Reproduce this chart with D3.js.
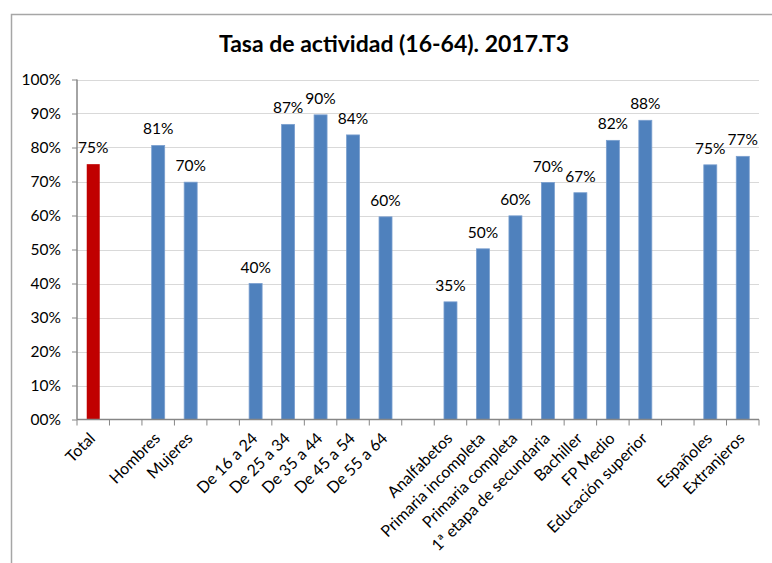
<!DOCTYPE html>
<html>
<head>
<meta charset="utf-8">
<script src="https://cdn.jsdelivr.net/npm/d3@7"></script>
<style>
  body { margin: 0; background: #fff; }
  svg { display: block; font-family: Lato, "Liberation Sans", sans-serif; }
</style>
</head>
<body>
<svg id="chart" width="772" height="563"></svg>
<script>
// categories ("" = empty gap slot)
const categories = ["Total", "", "Hombres", "Mujeres", "", "De 16 a 24", "De 25 a 34", "De 35 a 44",
  "De 45 a 54", "De 55 a 64", "", "Analfabetos", "Primaria incompleta", "Primaria completa",
  "1ª etapa de secundaria", "Bachiller", "FP Medio", "Educación superior", "", "Españoles", "Extranjeros"];
// activity rate per category (%), null for gaps
const values = [75.1, null, 80.6, 69.8, null, 40.0, 86.8, 89.6, 83.7, 59.6, null, 34.6, 50.2, 59.9,
  69.7, 66.7, 82.1, 88.0, null, 74.9, 77.4];
const yTicks = [0, 10, 20, 30, 40, 50, 60, 70, 80, 90, 100];
const title = "Tasa de actividad (16-64). 2017.T3";

const svg = d3.select("#chart");
const margin = { left: 77, right: 13, top: 79.5, bottom: 143.5 };
const width = 772, height = 563;

// outer chart frame
svg.append("rect")
  .attr("x", 11.5).attr("y", 14.5)
  .attr("width", 800).attr("height", 600)
  .attr("fill", "none").attr("stroke", "#a6a6a6").attr("stroke-width", 1.5);

svg.append("text")
  .attr("x", 394).attr("y", 52)
  .attr("text-anchor", "middle")
  .attr("font-size", 23).attr("font-weight", "bold")
  .attr("fill", "#000")
  .text(title);

const idx = categories.map((d, i) => i);
const x = d3.scaleBand()
  .domain(idx)
  .range([margin.left, width - margin.right])
  .paddingInner(0.6)
  .paddingOuter(0.3);
const y = d3.scaleLinear()
  .domain([0, 100])
  .range([height - margin.bottom, margin.top]);

// gridlines + y axis
const yAxis = svg.append("g")
  .attr("transform", `translate(${margin.left},0)`)
  .call(d3.axisLeft(y).tickValues(yTicks).tickSize(5)
    .tickFormat(d => d === 0 ? "00%" : d + "%"));
yAxis.select(".domain").remove();
yAxis.selectAll(".tick line").attr("stroke", "#868686");
yAxis.selectAll(".tick text")
  .attr("x", -16).attr("font-size", 15.5).attr("fill", "#000")
  .attr("font-family", "Lato, 'Liberation Sans', sans-serif");

svg.append("g")
  .selectAll("line")
  .data(yTicks.filter(d => d > 0))
  .join("line")
  .attr("x1", margin.left).attr("x2", width - margin.right)
  .attr("y1", d => Math.round(y(d)) + 0.5).attr("y2", d => Math.round(y(d)) + 0.5)
  .attr("stroke", "#d9d9d9");

svg.append("line")
  .attr("x1", margin.left).attr("x2", margin.left)
  .attr("y1", y(100)).attr("y2", y(0))
  .attr("stroke", "#868686").attr("stroke-width", 1.5);

// bars
const data = idx.filter(i => values[i] !== null);
svg.append("g")
  .selectAll("rect")
  .data(data)
  .join("rect")
  .attr("x", i => x(i))
  .attr("width", x.bandwidth())
  .attr("y", i => y(values[i]))
  .attr("height", i => y(0) - y(values[i]))
  .attr("fill", i => i === 0 ? "#c00000" : "#4f81bd")
  .attr("stroke", i => i === 0 ? "none" : "#7a9fcf")
  .attr("stroke-width", 0.8);

// value labels
svg.append("g")
  .selectAll("text")
  .data(data)
  .join("text")
  .attr("x", i => x(i) + x.bandwidth() / 2)
  .attr("y", i => y(values[i]) - 11)
  .attr("text-anchor", "middle")
  .attr("font-size", 15.5)
  .attr("fill", "#000")
  .text(i => Math.round(values[i]) + "%");

// x axis line and ticks at slot boundaries
const step = x.step();
svg.append("line")
  .attr("x1", margin.left).attr("x2", width - margin.right)
  .attr("y1", y(0)).attr("y2", y(0))
  .attr("stroke", "#868686").attr("stroke-width", 1.5);
svg.append("g")
  .selectAll("line")
  .data(d3.range(categories.length + 1))
  .join("line")
  .attr("x1", i => margin.left + i * step).attr("x2", i => margin.left + i * step)
  .attr("y1", y(0)).attr("y2", y(0) + 6)
  .attr("stroke", "#868686");

// rotated category labels
svg.append("g")
  .selectAll("text")
  .data(idx.filter(i => categories[i] !== ""))
  .join("text")
  .attr("transform", i => `translate(${x(i) + x.bandwidth() / 2 - 1},${y(0) + 16}) rotate(-45)`)
  .attr("text-anchor", "end")
  .attr("dy", "0.35em")
  .attr("font-size", 16)
  .attr("fill", "#000")
  .text(i => categories[i]);
</script>
</body>
</html>
